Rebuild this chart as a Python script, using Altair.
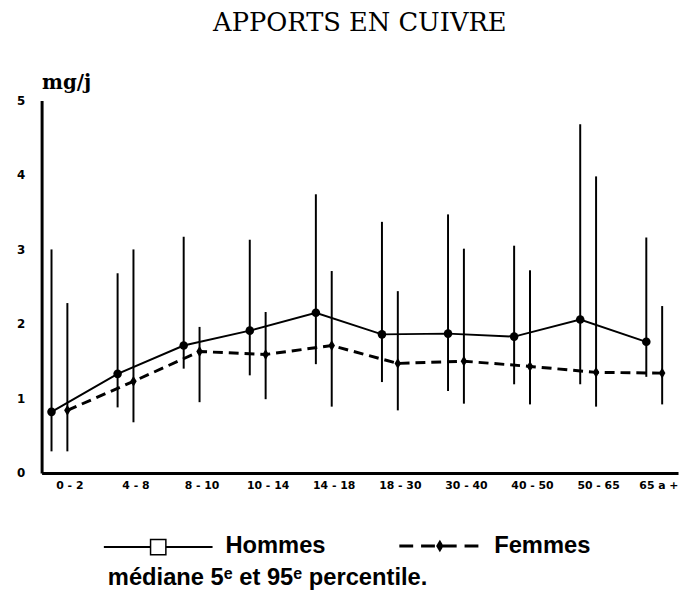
import altair as alt
import pandas as pd

# ---- data ----
ages = ["0 - 2", "4 - 8", "8 - 10", "10 - 14", "14 - 18",
        "18 - 30", "30 - 40", "40 - 50", "50 - 65", "65 a +"]
hommes_med = [0.82, 1.33, 1.71, 1.91, 2.15, 1.86, 1.87, 1.83, 2.06, 1.76]
hommes_p5 = [0.29, 0.88, 1.40, 1.31, 1.46, 1.22, 1.10, 1.19, 1.19, 1.29]
hommes_p95 = [3.00, 2.68, 3.17, 3.13, 3.74, 3.37, 3.47, 3.05, 4.68, 3.16]
femmes_med = [0.84, 1.23, 1.63, 1.59, 1.71, 1.47, 1.50, 1.43, 1.35, 1.34]
femmes_p5 = [0.29, 0.68, 0.95, 0.99, 0.89, 0.84, 0.93, 0.92, 0.89, 0.92]
femmes_p95 = [2.28, 3.00, 1.96, 2.16, 2.71, 2.44, 3.01, 2.72, 3.98, 2.24]
series = ["Hommes", "Femmes"]
y_ticks = [0, 1, 2, 3, 4, 5]
title_text = "APPORTS EN CUIVRE"
unit_text = "mg/j"
note_text = "médiane 5ᵉ et 95ᵉ percentile."

rows = []
for i, a in enumerate(ages):
    rows.append(dict(idx=i, age=a, sexe=series[0], med=hommes_med[i],
                     p5=hommes_p5[i], p95=hommes_p95[i]))
    rows.append(dict(idx=i, age=a, sexe=series[1], med=femmes_med[i],
                     p5=femmes_p5[i], p95=femmes_p95[i]))
df = pd.DataFrame(rows)

last = len(ages) - 1
label_expr = "[" + ",".join("'" + a + "'" for a in ages) + "][datum.value]"

x_enc = alt.X(
    "pos:Q",
    scale=alt.Scale(domain=[-0.42, 9.21], nice=False, zero=False),
    axis=alt.Axis(values=list(range(len(ages))), labelExpr=label_expr,
                  title=None, ticks=False, grid=False, domainColor="black",
                  domainWidth=3, labelFont="DejaVu Sans", labelFontWeight="bold",
                  labelFontSize=11, labelColor="black", labelPadding=7,
                  labelAlign={"condition": {"test": f"datum.value === {last}",
                                            "value": "right"},
                              "value": "center"},
                  labelOffset={"condition": {"test": f"datum.value === {last}",
                                             "value": 14},
                               "value": 0}),
)
y_enc = alt.Y(
    "med:Q",
    scale=alt.Scale(domain=[0, 5], nice=False),
    axis=alt.Axis(values=y_ticks, format="d", title=unit_text, titleAngle=0,
                  titleX=0, titleY=-12, titleAlign="left",
                  titleBaseline="alphabetic",
                  titleFont="DejaVu Serif", titleFontSize=20,
                  titleFontWeight="bold", titleColor="black",
                  ticks=False, grid=False, domainColor="black", domainWidth=3,
                  labelFont="DejaVu Sans", labelFontWeight="bold",
                  labelFontSize=12, labelColor="black", labelPadding=17),
)

base = alt.Chart(df).transform_calculate(
    pos="datum.idx + (datum.sexe === 'Hommes' ? -0.27 : -0.03)"
)

bars = base.mark_rule(color="black", strokeWidth=2).encode(
    x=x_enc, y=alt.Y("p5:Q"), y2="p95:Q"
)
line_h = base.transform_filter("datum.sexe === 'Hommes'").mark_line(
    color="black", strokeWidth=2
).encode(x=x_enc, y=y_enc)
line_f = base.transform_filter("datum.sexe === 'Femmes'").mark_line(
    color="black", strokeWidth=3, strokeDash=[10, 6]
).encode(x=x_enc, y=y_enc)
pts_h = base.transform_filter("datum.sexe === 'Hommes'").mark_point(
    shape="circle", filled=True, color="black", size=75, opacity=1
).encode(x=x_enc, y=y_enc)
diamond = "M0,-1L0.6,0L0,1L-0.6,0Z"
pts_f = base.transform_filter("datum.sexe === 'Femmes'").mark_point(
    shape=diamond, filled=True, color="black", size=120, opacity=1
).encode(x=x_enc, y=y_enc)

# ---- legend drawn below the plot ----
leg_font = "Liberation Sans, Arial, sans-serif"
one = pd.DataFrame({"t": [series[0]]})
two = pd.DataFrame({"t": [series[1]]})
note = pd.DataFrame({"t": [note_text]})

leg_rule_h = alt.Chart(one).mark_rule(color="black", strokeWidth=2).encode(
    x=alt.value(63), x2=alt.value(173), y=alt.value(452))
leg_sq = alt.Chart(one).mark_point(shape="square", filled=True, fill="white",
                                   stroke="black", strokeWidth=1.5, size=240,
                                   opacity=1).encode(
    x=alt.value(118), y=alt.value(452))
leg_txt_h = alt.Chart(one).mark_text(align="left", baseline="alphabetic",
                                     font=leg_font, fontSize=24,
                                     fontWeight="bold", color="black").encode(
    x=alt.value(186), y=alt.value(458), text="t:N")
leg_rule_f = alt.Chart(two).mark_rule(color="black", strokeWidth=3,
                                      strokeDash=[14, 8]).encode(
    x=alt.value(362), x2=alt.value(446), y=alt.value(451))
leg_dia = alt.Chart(two).mark_point(shape=diamond, filled=True, color="black",
                                    size=160, opacity=1).encode(
    x=alt.value(403), y=alt.value(451))
leg_txt_f = alt.Chart(two).mark_text(align="left", baseline="alphabetic",
                                     font=leg_font, fontSize=24,
                                     fontWeight="bold", color="black").encode(
    x=alt.value(458), y=alt.value(458), text="t:N")
leg_note = alt.Chart(note).mark_text(align="left", baseline="alphabetic",
                                     font=leg_font, fontSize=24,
                                     fontWeight="bold", color="black").encode(
    x=alt.value(67), y=alt.value(490), text="t:N")

chart = alt.layer(
    bars, line_h, line_f, pts_h, pts_f,
    leg_rule_h, leg_sq, leg_txt_h, leg_rule_f, leg_dia, leg_txt_f, leg_note,
).properties(
    width=644,
    height=377,
    title=alt.TitleParams(title_text, font="DejaVu Serif", fontSize=26,
                          fontWeight="normal", color="black", anchor="middle",
                          offset=37),
    autosize=alt.AutoSizeParams(type="none"),
    padding={"left": 34, "top": 90, "right": 2, "bottom": 120},
    background="white",
).configure_view(stroke=None)

chart.save("out.html", embed_options={"renderer": "svg", "actions": False})
